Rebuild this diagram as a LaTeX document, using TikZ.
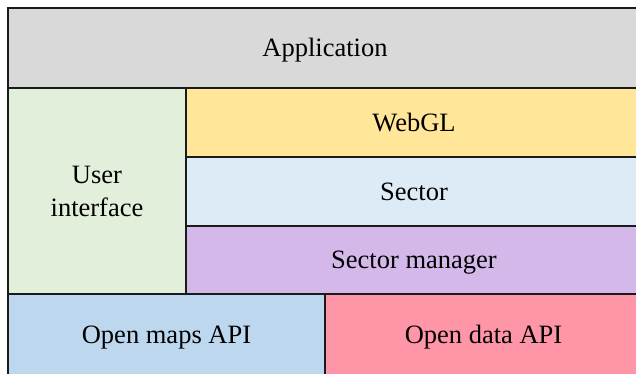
\documentclass[tikz,border=0pt]{standalone}
\usepackage{fontspec}
\setmainfont{Liberation Serif}
\definecolor{appgray}{HTML}{D9D9D9}
\definecolor{uigreen}{HTML}{E2EFDA}
\definecolor{glyellow}{HTML}{FFE699}
\definecolor{seclight}{HTML}{DDEBF7}
\definecolor{mgrpurple}{HTML}{D5B8EA}
\definecolor{mapsblue}{HTML}{BDD7EE}
\definecolor{datapink}{HTML}{FF96A8}
\definecolor{edge}{HTML}{1A1A1A}
\tikzset{
  layer/.style={draw=edge, line width=1.5pt, inner sep=0pt, outer sep=0pt,
    anchor=north west, align=center,
    font=\rmfamily\fontsize{26.5}{33}\selectfont,
    text height=17.5pt, text depth=0pt},
}
\begin{document}
\begin{tikzpicture}[x=1pt, y=-1pt]
\useasboundingbox (0,0) rectangle (636,373);
\clip (0,0) rectangle (636,373);
% top layer
\node[layer, fill=appgray, minimum width=634pt, minimum height=80pt] (app) at (8,8) {Application};
% left column (two lines: height spans first cap line to last baseline)
\node[layer, fill=uigreen, minimum width=178pt, minimum height=206pt,
  text height=50.5pt] (ui) at (8,88) {User\\interface};
% rendering stack
\node[layer, fill=glyellow, minimum width=456pt, minimum height=69pt] (webgl) at (186,88) {WebGL};
\node[layer, fill=seclight, minimum width=456pt, minimum height=69pt] (sector) at (186,157) {Sector};
\node[layer, fill=mgrpurple, minimum width=456pt, minimum height=68pt] (mgr) at (186,226) {Sector manager};
% data sources
\node[layer, fill=mapsblue, minimum width=317pt, minimum height=81pt] (maps) at (8,294) {Open maps API};
\node[layer, fill=datapink, minimum width=317pt, minimum height=81pt] (data) at (325,294) {Open data API};
\end{tikzpicture}
\end{document}
